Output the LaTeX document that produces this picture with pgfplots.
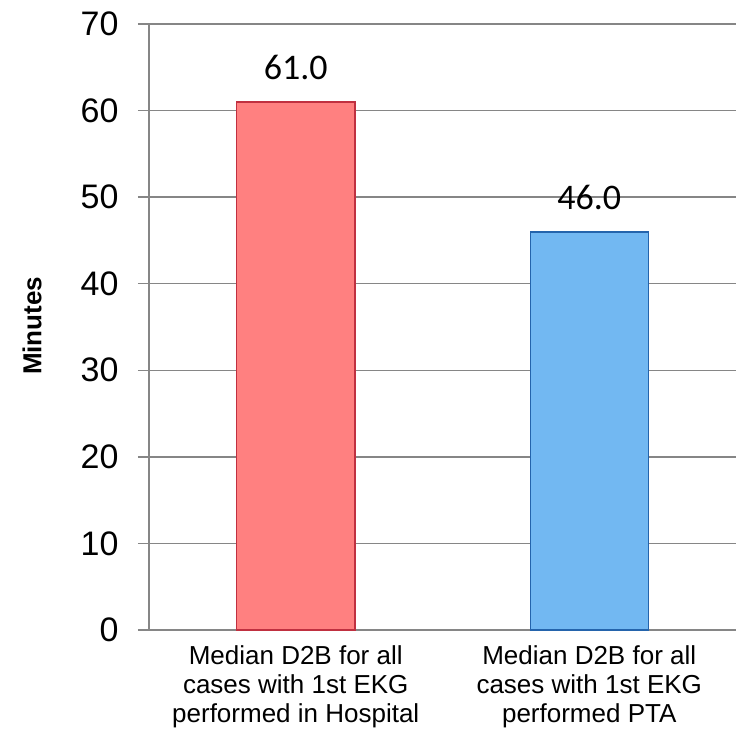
\documentclass[border=0pt]{standalone}
\usepackage{pgfplots}
\pgfplotsset{compat=1.18}
\usepackage{fontspec}
\setmainfont{Liberation Sans}
\newfontfamily\calibri{Carlito}
\definecolor{gridgray}{RGB}{134,134,134}
\definecolor{redfill}{RGB}{255,128,128}
\definecolor{redline}{RGB}{192,48,64}
\definecolor{bluefill}{RGB}{114,184,242}
\definecolor{blueline}{RGB}{36,100,172}
\begin{document}
\begin{tikzpicture}
\useasboundingbox (-149bp,-100bp) rectangle (587bp,630bp);
\begin{axis}[
  scale only axis,
  width=587bp, height=606bp,
  xmin=-0.5, xmax=1.5,
  ymin=0, ymax=70,
  ytick={0,10,...,70},
  xtick={0,1},
  xticklabels={{Median D2B for all\\cases with 1st EKG\\performed in Hospital},{Median D2B for all\\cases with 1st EKG\\performed PTA}},
  axis x line*=bottom,
  axis y line*=left,
  axis line style={-, draw=gridgray, line width=1.5bp},
  ymajorgrids,
  grid style={draw=gridgray, line width=1.5bp},
  ytick style={draw=gridgray, line width=1.5bp},
  xtick style={draw=none},
  tick align=outside,
  major tick length=11bp,
  /pgf/number format/assume math mode=true,
  yticklabel style={font=\fontsize{34bp}{38bp}\selectfont, xshift=-16bp},
  xticklabel style={font=\fontsize{26bp}{29bp}\selectfont, align=center, anchor=north, yshift=-1bp},
  ylabel={\bfseries Minutes},
  ylabel style={font=\fontsize{26bp}{30bp}\selectfont, at={(axis description cs:-0.1993,0.502)}, anchor=center},
  clip=false,
]
\addplot[ybar, bar width=118bp, bar shift=0pt, fill=redfill, draw=redline, line width=1.5bp,
  nodes near coords={\pgfmathprintnumber[fixed,fixed zerofill,precision=1,assume math mode=true]{\pgfplotspointmeta}},
  every node near coord/.style={font=\calibri\fontsize{36bp}{40bp}\selectfont, text=black, anchor=base, yshift=22bp}]
  coordinates {(0,61.0)};
\addplot[ybar, bar width=118bp, bar shift=0pt, fill=bluefill, draw=blueline, line width=1.5bp,
  nodes near coords={\pgfmathprintnumber[fixed,fixed zerofill,precision=1,assume math mode=true]{\pgfplotspointmeta}},
  every node near coord/.style={font=\calibri\fontsize{36bp}{40bp}\selectfont, text=black, anchor=base, yshift=22bp}]
  coordinates {(1,46.0)};
\end{axis}
\end{tikzpicture}
\end{document}
